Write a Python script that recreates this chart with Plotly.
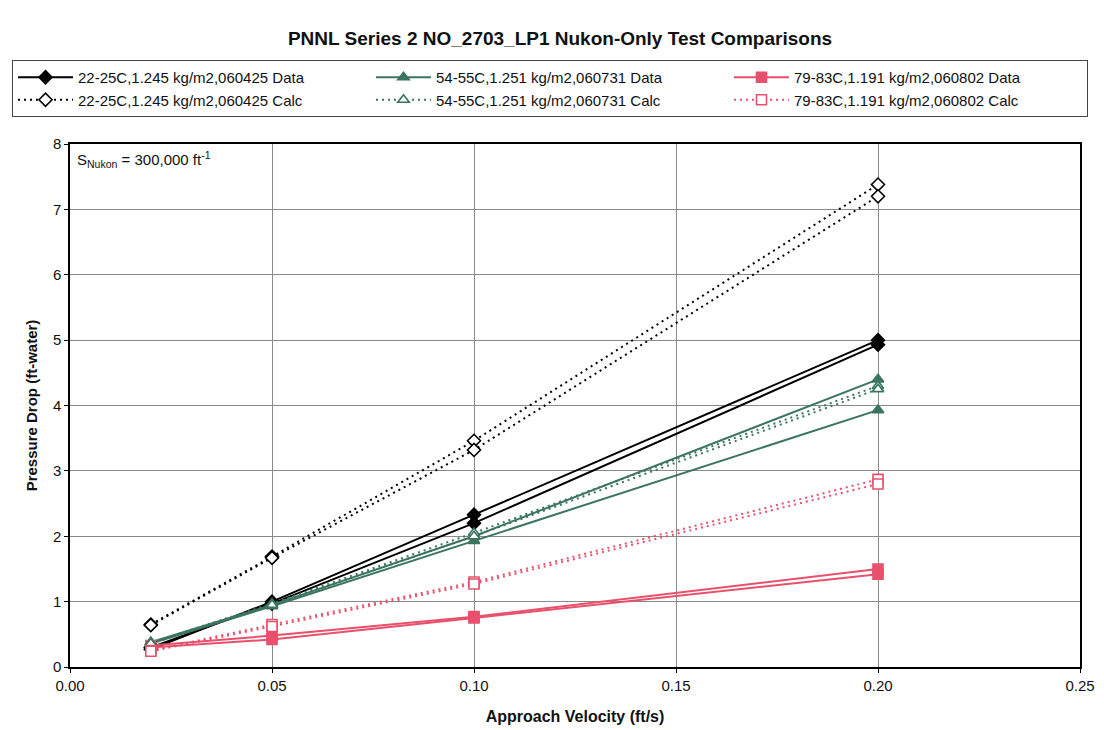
import plotly.graph_objects as go

velocity = [0.02, 0.05, 0.10, 0.20]

# Each group has two test runs (legend shows one entry per group)
black_data_runs = [[0.27, 1.00, 2.33, 5.00], [0.30, 0.97, 2.20, 4.93]]
black_calc_runs = [[0.65, 1.69, 3.46, 7.38], [0.64, 1.67, 3.32, 7.20]]
green_data_runs = [[0.38, 0.95, 2.00, 4.40], [0.36, 0.93, 1.93, 3.93]]
green_calc_runs = [[0.37, 0.97, 2.05, 4.30], [0.36, 0.95, 2.00, 4.25]]
red_data_runs = [[0.33, 0.48, 0.77, 1.50], [0.30, 0.42, 0.75, 1.42]]
red_calc_runs = [[0.25, 0.65, 1.30, 2.87], [0.24, 0.62, 1.27, 2.80]]

names = {
    "bd": "22-25C,1.245 kg/m2,060425 Data",
    "gd": "54-55C,1.251 kg/m2,060731 Data",
    "rd": "79-83C,1.191 kg/m2,060802 Data",
    "bc": "22-25C,1.245 kg/m2,060425 Calc",
    "gc": "54-55C,1.251 kg/m2,060731 Calc",
    "rc": "79-83C,1.191 kg/m2,060802 Calc",
}

BLACK = "#000000"
GREEN = "#3b7560"
RED = "#e8506c"

groups = [
    ("bd", black_data_runs, BLACK, "solid", "diamond", True),
    ("gd", green_data_runs, GREEN, "solid", "triangle-up", True),
    ("rd", red_data_runs, RED, "solid", "square", True),
    ("bc", black_calc_runs, BLACK, "2px,4px", "diamond", False),
    ("gc", green_calc_runs, GREEN, "2px,4px", "triangle-up", False),
    ("rc", red_calc_runs, RED, "2px,4px", "square", False),
]

fig = go.Figure()
for key, runs, color, dash, symbol, filled in groups:
    for i, run in enumerate(runs):
        fig.add_trace(go.Scatter(
            x=velocity, y=run, mode="lines+markers",
            name=names[key], legendgroup=key, showlegend=(i == 0),
            line=dict(color=color, width=2, dash=dash),
            marker=dict(symbol=symbol, size=10,
                        color=color if filled else "white",
                        line=dict(color=color, width=1.6)),
        ))

# page body adds an 8px offset; margins compensate
L, R, T, B = 62, 32, 136, 71
PW = 1104 - L - R
PH = 730 - T - B

fig.update_layout(
    width=1104, height=730,
    margin=dict(l=L, r=R, t=T, b=B, autoexpand=False),
    paper_bgcolor="white", plot_bgcolor="white",
    font=dict(family="Liberation Sans, Arial, sans-serif", size=15, color="#111111"),
    title=dict(text="<b>PNNL Series 2 NO_2703_LP1 Nukon-Only Test Comparisons</b>",
               x=0.5, xanchor="center", y=1 - 30 / 730, yanchor="middle",
               font=dict(size=19)),
    legend=dict(orientation="h", x=(4 - L) / PW, y=(730 - B - 52) / PH,
                xanchor="left", yanchor="top",
                bordercolor="#444444", borderwidth=1, bgcolor="white",
                entrywidth=288, entrywidthmode="pixels", itemwidth=55,
                font=dict(size=15), tracegroupgap=0, traceorder="normal"),
    xaxis=dict(range=[0, 0.25], tickvals=[0, 0.05, 0.10, 0.15, 0.20, 0.25],
               tickformat=".2f", showgrid=True, gridcolor="#8a8a8a", gridwidth=1,
               showline=True, linecolor="black", linewidth=1.5, mirror=True,
               ticks="outside", ticklen=4, tickcolor="black", zeroline=False,
               tickfont=dict(size=15),
               title=dict(text="<b>Approach Velocity (ft/s)</b>", font=dict(size=16), standoff=18)),
    yaxis=dict(range=[0, 8], dtick=1, showgrid=True, gridcolor="#8a8a8a", gridwidth=1,
               showline=True, linecolor="black", linewidth=1.5, mirror=True,
               ticks="outside", ticklen=4, tickcolor="black", zeroline=False,
               tickfont=dict(size=15),
               title=dict(text="<b>Pressure Drop (ft-water)</b>", font=dict(size=15), standoff=12)),
)

fig.add_annotation(
    x=0.005, y=0.995, xref="paper", yref="paper", xanchor="left", yanchor="top",
    showarrow=False, align="left",
    text="S<sub>Nukon</sub> = 300,000 ft<sup>-1</sup>", font=dict(size=15),
)

fig.write_html("out.html")
